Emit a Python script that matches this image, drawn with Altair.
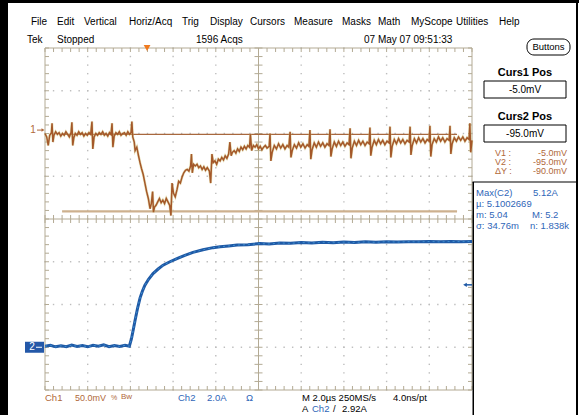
import altair as alt
import pandas as pd
import numpy as np

CH1_MV_PER_DIV = 50.0      # Ch1 50.0mV/div
CH1_OFFSET_DIV = 2.08      # Ch1 ground marker "1"
CH2_A_PER_DIV = 2.0        # Ch2 2.0A/div
CH2_OFFSET_DIV = -3.0      # Ch2 ground marker "2"
TRIG_T_US = 4.78           # trigger position (orange marker)
TRIG_LEVEL_A = 2.92        # A Ch2 2.92A

cursor_mv = [-5.0, -95.0]
cursor_span_us = [0.8, 19.3]

# Ch1 (mV vs µs)
ch1_points = [
    (0.00, -4), (0.08, -8), (0.15, -18), (0.22, -6), (0.30, -3), (0.33, 8), (0.37, -14),
    (0.42, -6), (0.50, -2), (0.58, -5), (0.66, -3), (0.74, -7), (0.82, -4), (0.90, -6),
    (0.98, -2), (1.06, -5), (1.14, -8), (1.22, -3), (1.26, 9), (1.30, -18), (1.35, -9),
    (1.42, -4), (1.50, -6), (1.58, -2), (1.66, -5), (1.74, -3), (1.82, -7), (1.90, -4),
    (1.98, -6), (2.06, -3), (2.14, -5), (2.20, 10), (2.24, -22), (2.30, -8), (2.38, -4),
    (2.46, -6), (2.54, -3), (2.62, -5), (2.70, -2), (2.78, -6), (2.86, -4), (2.94, -7),
    (3.02, -3), (3.09, -5), (3.14, 8), (3.18, -20), (3.24, -7), (3.32, -3), (3.40, -5),
    (3.48, -2), (3.56, -6), (3.64, -4), (3.72, -3), (3.80, -6), (3.88, -2), (3.96, -5),
    (4.03, -3), (4.07, 10), (4.11, -8), (4.18, -14), (4.22, -24), (4.30, -20), (4.38, -30),
    (4.45, -38), (4.52, -45), (4.60, -52), (4.68, -62), (4.76, -72), (4.84, -80), (4.92, -92),
    (4.98, -86), (5.04, -72), (5.08, -96), (5.13, -90), (5.20, -88), (5.28, -84), (5.36, -80),
    (5.44, -85), (5.52, -82), (5.60, -86), (5.68, -80), (5.76, -84), (5.84, -88), (5.90, -100),
    (5.95, -62), (6.02, -74), (6.10, -78), (6.18, -70), (6.26, -60), (6.34, -62), (6.42, -55),
    (6.50, -50), (6.58, -47), (6.66, -46), (6.74, -48), (6.82, -42), (6.86, -28), (6.90, -50),
    (6.96, -40), (7.04, -42), (7.12, -40), (7.20, -44), (7.28, -42), (7.36, -46), (7.44, -43),
    (7.52, -47), (7.60, -44), (7.70, -48), (7.76, -62), (7.82, -28), (7.88, -38), (7.96, -36),
    (8.04, -40), (8.12, -34), (8.20, -36), (8.28, -32), (8.36, -35), (8.44, -30), (8.52, -33),
    (8.60, -28), (8.66, -14), (8.72, -30), (8.78, -26), (8.86, -24), (8.94, -27), (9.02, -22),
    (9.10, -25), (9.18, -20), (9.26, -23), (9.34, -19), (9.42, -22), (9.50, -18), (9.58, -20),
    (9.62, -5), (9.68, -24), (9.76, -18), (9.84, -20), (9.92, -17), (10.00, -22), (10.08, -19),
    (10.16, -23), (10.24, -20), (10.32, -18), (10.40, -21), (10.50, -19),
    (10.54, -4), (10.58, -36), (10.64, -26), (10.74, -18), (10.84, -22), (10.94, -16),
    (11.04, -21), (11.14, -17), (11.24, -22), (11.34, -18), (11.42, -20),
    (11.48, -2), (11.52, -32), (11.58, -24), (11.68, -17), (11.78, -21), (11.88, -15),
    (11.98, -20), (12.08, -16), (12.18, -21), (12.28, -17), (12.36, -19),
    (12.41, 0), (12.45, -34), (12.51, -23), (12.61, -15), (12.71, -20), (12.81, -14),
    (12.91, -19), (13.01, -15), (13.11, -20), (13.21, -16), (13.30, -18),
    (13.35, 1), (13.39, -31), (13.45, -22), (13.55, -14), (13.65, -19), (13.75, -13),
    (13.85, -18), (13.95, -14), (14.05, -19), (14.15, -15), (14.24, -17),
    (14.29, 2), (14.33, -33), (14.39, -21), (14.49, -13), (14.59, -18), (14.69, -12),
    (14.79, -17), (14.89, -13), (14.99, -18), (15.09, -14), (15.18, -16),
    (15.22, 3), (15.26, -30), (15.32, -20), (15.42, -12), (15.52, -17), (15.62, -11),
    (15.72, -16), (15.82, -12), (15.92, -17), (16.02, -13), (16.12, -15),
    (16.16, 4), (16.20, -32), (16.26, -19), (16.36, -11), (16.46, -16), (16.56, -10),
    (16.66, -15), (16.76, -11), (16.86, -16), (16.96, -12), (17.06, -14),
    (17.10, 4), (17.14, -29), (17.20, -18), (17.30, -10), (17.40, -15), (17.50, -9),
    (17.60, -14), (17.70, -10), (17.80, -15), (17.90, -11), (17.99, -13),
    (18.03, 5), (18.07, -31), (18.13, -17), (18.23, -10), (18.33, -14), (18.43, -8),
    (18.53, -13), (18.63, -9), (18.73, -14), (18.83, -10), (18.93, -12),
    (18.97, 5), (19.01, -28), (19.07, -16), (19.17, -9), (19.27, -13), (19.37, -8),
    (19.47, -12), (19.57, -8), (19.67, -13), (19.77, -9), (19.86, -11),
    (19.90, 8), (19.94, -26), (20.00, -12),
]

# Ch2 (A vs µs)
ch2_points = [
    (0.0, 0.05), (0.25, 0.09), (0.5, 0.02), (0.75, 0.07), (1.0, 0.03), (1.25, 0.10),
    (1.5, 0.04), (1.75, 0.08), (2.0, 0.02), (2.25, 0.09), (2.5, 0.05), (2.75, 0.11),
    (3.0, 0.03), (3.25, 0.08), (3.5, 0.04), (3.75, 0.09), (3.95, 0.05), (4.05, 0.40),
    (4.15, 0.90), (4.22, 1.26), (4.33, 1.80), (4.45, 2.30), (4.56, 2.62), (4.68, 2.90),
    (4.85, 3.18), (5.06, 3.45), (5.30, 3.66), (5.53, 3.84), (5.85, 4.00), (6.18, 4.15),
    (6.55, 4.30), (6.93, 4.44), (7.40, 4.56), (7.87, 4.66), (8.20, 4.70), (8.60, 4.74),
    (9.00, 4.78), (9.50, 4.80), (10.07, 4.85), (10.5, 4.83), (11.0, 4.88), (11.5, 4.86),
    (12.0, 4.90), (12.5, 4.88), (13.0, 4.91), (13.5, 4.89), (14.0, 4.92), (14.5, 4.90),
    (15.0, 4.93), (15.5, 4.91), (16.0, 4.94), (16.5, 4.92), (17.0, 4.94), (17.5, 4.93),
    (18.0, 4.95), (18.5, 4.93), (19.0, 4.95), (19.5, 4.94), (20.0, 4.95),
]

# ---------------- layout constants ----------------
W, H = 579, 415
PX_LEFT, PX_RIGHT = 45.0, 472.0       # graticule left/right
PX_CENTER_Y, PX_PER_DIV_Y = 219.0, 42.75
US_SPAN = 20.0
px_per_us = (PX_RIGHT - PX_LEFT) / US_SPAN
XMIN = -PX_LEFT / px_per_us
XMAX = (W - PX_LEFT) / px_per_us
YMIN = (PX_CENTER_Y - H) / PX_PER_DIV_Y
YMAX = PX_CENTER_Y / PX_PER_DIV_Y
xs = alt.Scale(domain=[XMIN, XMAX], nice=False, zero=False)
ys = alt.Scale(domain=[YMIN, YMAX], nice=False, zero=False)

FONT = "Liberation Sans"
BOLD_FONT = "Liberation Sans"
GRAT = "#b3aa94"
DOT = "#bdbdbd"
BROWN = "#a4582a"
BROWN_TXT = "#b0683a"
BLUE = "#1f5aa6"
BLUE_TXT = "#2f66b8"

one = pd.DataFrame({"k": [0]})


def label(text, x, y, color="#000000", size=10, align="left", weight="normal", font=FONT):
    return alt.Chart(one).mark_text(
        text=text, align=align, baseline="middle", fontSize=size,
        fontWeight=weight, font=font, color=color
    ).encode(x=alt.value(x), y=alt.value(y))


def box(x1, x2, y1, y2, fill="white", stroke="#000000", sw=1.0, radius=0):
    return alt.Chart(one).mark_rect(
        fill=fill, stroke=stroke, strokeWidth=sw, cornerRadius=radius
    ).encode(x=alt.value(x1), x2=alt.value(x2), y=alt.value(y1), y2=alt.value(y2))


# ---------------- graticule ----------------
minor_t = np.round(np.arange(0, US_SPAN + 1e-6, 0.4), 3)
minor_d = np.round(np.arange(-4, 4 + 1e-6, 0.2), 3)
dots = []
for tm in [2, 4, 6, 8, 12, 14, 16, 18]:
    for dm in minor_d:
        dots.append((tm, dm))
for dm in [-3, -2, -1, 1, 2, 3]:
    for tm in minor_t:
        dots.append((tm, dm))
dots_df = pd.DataFrame(dots, columns=["t", "d"])

lines_df = pd.DataFrame(
    [(0, 0, -4, 4), (20, 20, -4, 4), (0, 20, 4, 4), (0, 20, -4, -4), (10, 10, -4, 4), (0, 20, 0, 0)],
    columns=["t1", "t2", "d1", "d2"],
)
tl_t = 4.0 / px_per_us
tl_d = 4.0 / PX_PER_DIV_Y
ticks = []
for tm in minor_t:
    ticks += [(tm, tm, 4 - tl_d, 4), (tm, tm, -4, -4 + tl_d), (tm, tm, -tl_d, tl_d)]
for dm in minor_d:
    ticks += [(0, tl_t, dm, dm), (20 - tl_t, 20, dm, dm), (10 - tl_t, 10 + tl_t, dm, dm)]
ticks_df = pd.DataFrame(ticks, columns=["t1", "t2", "d1", "d2"])

dots_layer = alt.Chart(dots_df).mark_square(size=2, color=DOT, opacity=1).encode(
    x=alt.X("t:Q", scale=xs, axis=None), y=alt.Y("d:Q", scale=ys, axis=None))
rule_enc = dict(x=alt.X("t1:Q", scale=xs, axis=None), x2="t2:Q",
                y=alt.Y("d1:Q", scale=ys, axis=None), y2="d2:Q")
lines_layer = alt.Chart(lines_df).mark_rule(color=GRAT, strokeWidth=1).encode(**rule_enc)
ticks_layer = alt.Chart(ticks_df).mark_rule(color=GRAT, strokeWidth=1).encode(**rule_enc)

# ---------------- cursors ----------------
cur_df = pd.DataFrame({
    "t1": [cursor_span_us[0]] * 2, "t2": [cursor_span_us[1]] * 2,
    "d": [v / CH1_MV_PER_DIV + CH1_OFFSET_DIV for v in cursor_mv],
    "c": ["c1", "c2"],
})
cur_layer = alt.Chart(cur_df).mark_rule().encode(
    x=alt.X("t1:Q", scale=xs, axis=None), x2="t2:Q",
    y=alt.Y("d:Q", scale=ys, axis=None),
    color=alt.Color("c:N", scale=alt.Scale(domain=["c1", "c2"], range=["#a8683e", "#cdb08e"]), legend=None),
    strokeWidth=alt.StrokeWidth("c:N", scale=alt.Scale(domain=["c1", "c2"], range=[1.3, 2.2]), legend=None),
)

# ---------------- traces ----------------
ch1_df = pd.DataFrame(ch1_points, columns=["t", "mv"])
ch1_df["d"] = ch1_df["mv"] / CH1_MV_PER_DIV + CH1_OFFSET_DIV
ch2_df = pd.DataFrame(ch2_points, columns=["t", "a"])
ch2_df["d"] = ch2_df["a"] / CH2_A_PER_DIV + CH2_OFFSET_DIV

tr_enc = dict(x=alt.X("t:Q", scale=xs, axis=None), y=alt.Y("d:Q", scale=ys, axis=None),
              order="t:Q")
ch2_main = alt.Chart(ch2_df).mark_line(color=BLUE, strokeWidth=3).encode(**tr_enc)
ch2_hi = alt.Chart(ch2_df).mark_line(color="#4aa3e0", strokeWidth=1, opacity=0.7,
                                     strokeDash=[2, 3]).encode(**tr_enc)
ch1_glow = alt.Chart(ch1_df).mark_line(color="#cfc070", strokeWidth=2.6, opacity=0.5).encode(**tr_enc)
ch1_main = alt.Chart(ch1_df).mark_line(color=BROWN, strokeWidth=1.5).encode(**tr_enc)

# trigger marker at top, trigger level arrow at right
trig_df = pd.DataFrame({"t": [TRIG_T_US]})
trig_layer = alt.Chart(trig_df).mark_point(shape="triangle-down", filled=True, size=45,
                                           color="#f07a1e", opacity=1).encode(
    x=alt.X("t:Q", scale=xs, axis=None), y=alt.value(48))
lvl_df = pd.DataFrame({"d": [TRIG_LEVEL_A / CH2_A_PER_DIV + CH2_OFFSET_DIV]})
lvl_rule = alt.Chart(lvl_df).mark_rule(color=BLUE, strokeWidth=1.5).encode(
    x=alt.value(465), x2=alt.value(472), y=alt.Y("d:Q", scale=ys, axis=None))
lvl_head = alt.Chart(lvl_df).mark_point(shape="triangle-left", filled=True, size=18,
                                        color=BLUE, opacity=1).encode(
    x=alt.value(465), y=alt.Y("d:Q", scale=ys, axis=None))

# channel ground markers
g1_df = pd.DataFrame({"d": [CH1_OFFSET_DIV]})
g2_df = pd.DataFrame({"d": [CH2_OFFSET_DIV]})
g1_text = alt.Chart(g1_df).mark_text(text="1", font=FONT, fontSize=10, color=BROWN_TXT,
                                     align="center", baseline="middle").encode(
    x=alt.value(33), y=alt.Y("d:Q", scale=ys, axis=None))
g1_rule = alt.Chart(g1_df).mark_rule(color=BROWN_TXT, strokeWidth=1).encode(
    x=alt.value(37), x2=alt.value(43), y=alt.Y("d:Q", scale=ys, axis=None))
g1_head = alt.Chart(g1_df).mark_point(shape="triangle-right", filled=True, size=12,
                                      color=BROWN_TXT, opacity=1).encode(
    x=alt.value(43), y=alt.Y("d:Q", scale=ys, axis=None))
g2_box = alt.Chart(g2_df).mark_rect(color="#2458a8", height=11).encode(
    x=alt.value(25), x2=alt.value(44), y=alt.Y("d:Q", scale=ys, axis=None))
g2_text = alt.Chart(g2_df).mark_text(text="2", font=FONT, fontSize=10, color="white",
                                     align="center", baseline="middle").encode(
    x=alt.value(32), y=alt.Y("d:Q", scale=ys, axis=None))
g2_rule = alt.Chart(g2_df).mark_rule(color="white", strokeWidth=1).encode(
    x=alt.value(36), x2=alt.value(42), y=alt.Y("d:Q", scale=ys, axis=None))

# ---------------- frame & texts ----------------
frame = [
    box(0, 8, 0, H, fill="#000000", stroke="#000000", sw=0),
    box(0, W, 0, 3, fill="#000000", stroke="#000000", sw=0),
    box(576, 578, 0, H, fill="#000000", stroke="#000000", sw=0),
    box(472.5, 474, 182, H, fill="#000000", stroke="#000000", sw=0),
    box(472.5, 578, 181.5, 182.5, fill="#000000", stroke="#000000", sw=0),
]

menu = [("File", 31), ("Edit", 57), ("Vertical", 84), ("Horiz/Acq", 129), ("Trig", 182),
        ("Display", 210), ("Cursors", 250), ("Measure", 294), ("Masks", 342), ("Math", 378),
        ("MyScope", 411), ("Utilities", 456), ("Help", 499)]
texts = [label(s, x, 22, size=10) for s, x in menu]
texts += [
    label("Tek", 27, 40, size=10),
    label("Stopped", 57, 40, size=10),
    label("1596 Acqs", 196, 40, size=10),
    label("07 May 07 09:51:33", 364, 40, size=10),
    box(527, 570, 39, 55, radius=7),
    label("Buttons", 548.5, 47, size=9.5, align="center"),
    label("Curs1 Pos", 525, 73, size=11, align="center", weight="bold", font=BOLD_FONT),
    box(484, 566, 81, 98),
    label("-5.0mV", 525, 89.5, size=10, align="center"),
    label("Curs2 Pos", 525, 117, size=11, align="center", weight="bold", font=BOLD_FONT),
    box(484, 566, 125, 142),
    label("-95.0mV", 525, 133.5, size=10, align="center"),
    label("V1 :", 495, 153, size=9, color=BROWN_TXT),
    label("-5.0mV", 567, 153, size=9, color=BROWN_TXT, align="right"),
    label("V2 :", 495, 162, size=9, color=BROWN_TXT),
    label("-95.0mV", 567, 162, size=9, color=BROWN_TXT, align="right"),
    label("ΔY :", 495, 171, size=9, color=BROWN_TXT),
    label("-90.0mV", 567, 171, size=9, color=BROWN_TXT, align="right"),
    label("Max(C2)", 476, 193, size=9.5, color=BLUE_TXT),
    label("5.12A", 533, 193, size=9.5, color=BLUE_TXT),
    label("µ: 5.1002669", 476, 204, size=9.5, color=BLUE_TXT),
    label("m: 5.04", 476, 215, size=9.5, color=BLUE_TXT),
    label("M: 5.2", 532, 215, size=9.5, color=BLUE_TXT),
    label("σ: 34.76m", 476, 226, size=9.5, color=BLUE_TXT),
    label("n: 1.838k", 530, 226, size=9.5, color=BLUE_TXT),
    label("Ch1", 45, 398, size=9.5, color=BROWN_TXT),
    label("50.0mV", 75, 398, size=9, color=BROWN_TXT),
    label("%", 111, 398, size=7, color=BROWN_TXT),
    label("Bw", 121, 397, size=8, color=BROWN_TXT),
    label("Ch2", 178, 398, size=9.5, color=BLUE_TXT),
    label("2.0A", 207, 398, size=9.5, color=BLUE_TXT),
    label("Ω", 246, 398, size=9.5, color=BLUE_TXT),
    label("M 2.0µs 250MS/s", 302, 398, size=9.5),
    label("4.0ns/pt", 393, 398, size=9.5),
    label("A", 302, 409, size=9.5),
    label("Ch2", 312, 409, size=9.5, color=BLUE_TXT),
    label("/", 333, 409, size=9.5),
    label("2.92A", 342, 409, size=9.5),
]

layers = [dots_layer, lines_layer, ticks_layer, cur_layer, ch2_main, ch2_hi,
          ch1_glow, ch1_main, trig_layer, lvl_rule, lvl_head,
          g1_text, g1_rule, g1_head, g2_box, g2_text, g2_rule] + frame + texts

chart = alt.layer(*layers).properties(
    width=W, height=H, padding=0, autosize="none", background="white"
).configure_view(stroke=None)

chart.save("out.html", embed_options={"renderer": "svg", "actions": False})
